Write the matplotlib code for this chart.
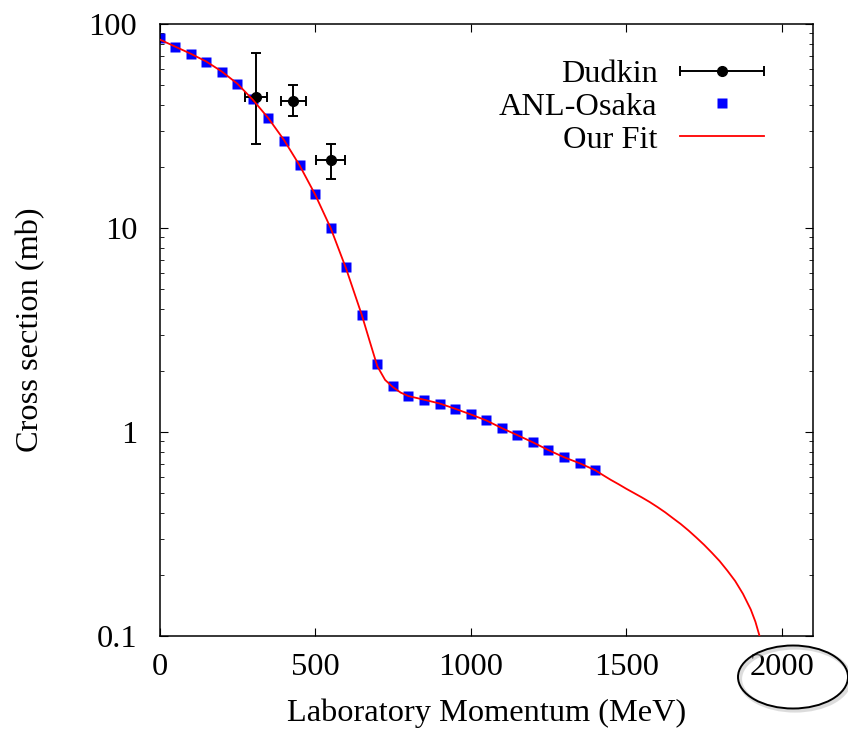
import matplotlib
matplotlib.use("Agg")
import matplotlib.pyplot as plt
from matplotlib.patches import Ellipse
from matplotlib.legend_handler import HandlerErrorbar
from matplotlib.container import ErrorbarContainer

plt.rcParams['font.family'] = ['Liberation Serif', 'DejaVu Serif']

# ANL-Osaka points
anl_p = [0, 50, 100, 150, 200, 250, 300, 350, 400, 450, 500, 550, 600, 650, 700,
         750, 800, 850, 900, 950, 1000, 1050, 1100, 1150, 1200, 1250, 1300, 1350, 1400]
anl_sig = [85.1, 76.9, 71.0, 65.1, 58.0, 50.6, 43.0, 34.5, 26.8, 20.3, 14.6, 10.0, 6.44, 3.75, 2.15,
           1.675, 1.50, 1.43, 1.365, 1.29, 1.22, 1.14, 1.042, 0.964, 0.890, 0.813, 0.751, 0.703, 0.649]

# Dudkin points with errors
dud_p = [310, 430, 550]
dud_sig = [44.0, 42.1, 21.5]
dud_perr = [35, 40, 46]
dud_lo = [18.2, 6.6, 4.2]
dud_hi = [28.4, 8.3, 4.3]

# fitted curve
fit_p = [0, 50, 100, 150, 200, 250, 300, 350, 400, 450, 500, 550, 600, 650, 675, 700,
         725, 750, 775, 800, 850, 900, 950, 1000, 1050, 1100, 1150, 1200, 1250, 1300, 1350, 1400,
         1425, 1450, 1475, 1500, 1525, 1550, 1575, 1600, 1625, 1650, 1675, 1700, 1725, 1750,
         1775, 1800, 1825, 1850, 1875, 1900, 1915, 1930]
fit_sig = [84.0, 77.5, 71.5, 65.5, 58.5, 51.0, 42.5, 34.5, 27.0, 20.3, 14.6, 10.0, 6.3, 3.75, 2.8, 2.1,
           1.80, 1.66, 1.56, 1.50, 1.44, 1.38, 1.30, 1.22, 1.14, 1.045, 0.965, 0.89, 0.815, 0.752, 0.703, 0.650,
           0.615, 0.583, 0.555, 0.527, 0.502, 0.478, 0.454, 0.429, 0.404, 0.378, 0.354, 0.329, 0.304, 0.280,
           0.256, 0.233, 0.209, 0.186, 0.161, 0.135, 0.1175, 0.098]

fs = 23.3

fig = plt.figure(figsize=(8.48, 7.33), dpi=100)
ax = fig.add_axes([0.1881, 0.1323, 0.7706, 0.835])

# horizontal bars carry the legend entry, vertical bars drawn separately
dud = ax.errorbar(dud_p, dud_sig, xerr=dud_perr, fmt='o', color='black',
                  ms=7, elinewidth=1.4, capsize=3.5, capthick=1.4, label='Dudkin', zorder=3)
ax.errorbar(dud_p, dud_sig, yerr=[dud_lo, dud_hi], fmt='none', ecolor='black',
            elinewidth=1.4, capsize=3.5, capthick=1.4, zorder=3)
anl, = ax.plot(anl_p, anl_sig, 's', color='#0000ff', ms=7.5, mec='none', label='ANL-Osaka', zorder=2)
fit, = ax.plot(fit_p, fit_sig, '-', color='red', lw=1.3, label='Our Fit', zorder=4)

ax.set_yscale('log')
ax.set_xlim(0, 2100)
ax.set_ylim(0.1, 100)
ax.set_xticks([0, 500, 1000, 1500, 2000])
ax.set_yticks([0.1, 1, 10, 100])
ax.set_yticklabels(['0.1', '1', '10', '100'])
ax.tick_params(which='both', direction='in', top=True, right=True, labelsize=fs)
ax.tick_params(axis='x', which='major', length=6, pad=12)
ax.tick_params(axis='y', which='major', length=6, pad=16)
ax.tick_params(axis='y', which='minor', length=3)
for s in ax.spines.values():
    s.set_linewidth(1.1)

ax.set_xlabel('Laboratory Momentum (MeV)', fontsize=fs, labelpad=12)
ax.set_ylabel('Cross section (mb)', fontsize=fs, labelpad=31)

hl = 2.6
leg = ax.legend([dud, anl, fit], ['Dudkin', 'ANL-Osaka', 'Our Fit'], loc='upper right',
                bbox_to_anchor=(0.97, 0.99), frameon=False, fontsize=fs, numpoints=1,
                markerfirst=False, handlelength=hl, handletextpad=0.7, labelspacing=0.1,
                handler_map={ErrorbarContainer: HandlerErrorbar(xerr_size=hl / 2)})
for t in leg.get_texts():
    t.set_ha('right')

# mark the 2000 tick label
shadow = Ellipse((795 / 848, 1 - 679 / 733), 110 / 848, 63 / 733, transform=fig.transFigure,
                 fill=False, ec='#bbbbbb', lw=3, alpha=0.5)
ell = Ellipse((793 / 848, 1 - 677 / 733), 110 / 848, 63 / 733, transform=fig.transFigure,
              fill=False, ec='black', lw=1.4)
fig.patches.extend([shadow, ell])

fig.savefig('out.png', dpi=100)
